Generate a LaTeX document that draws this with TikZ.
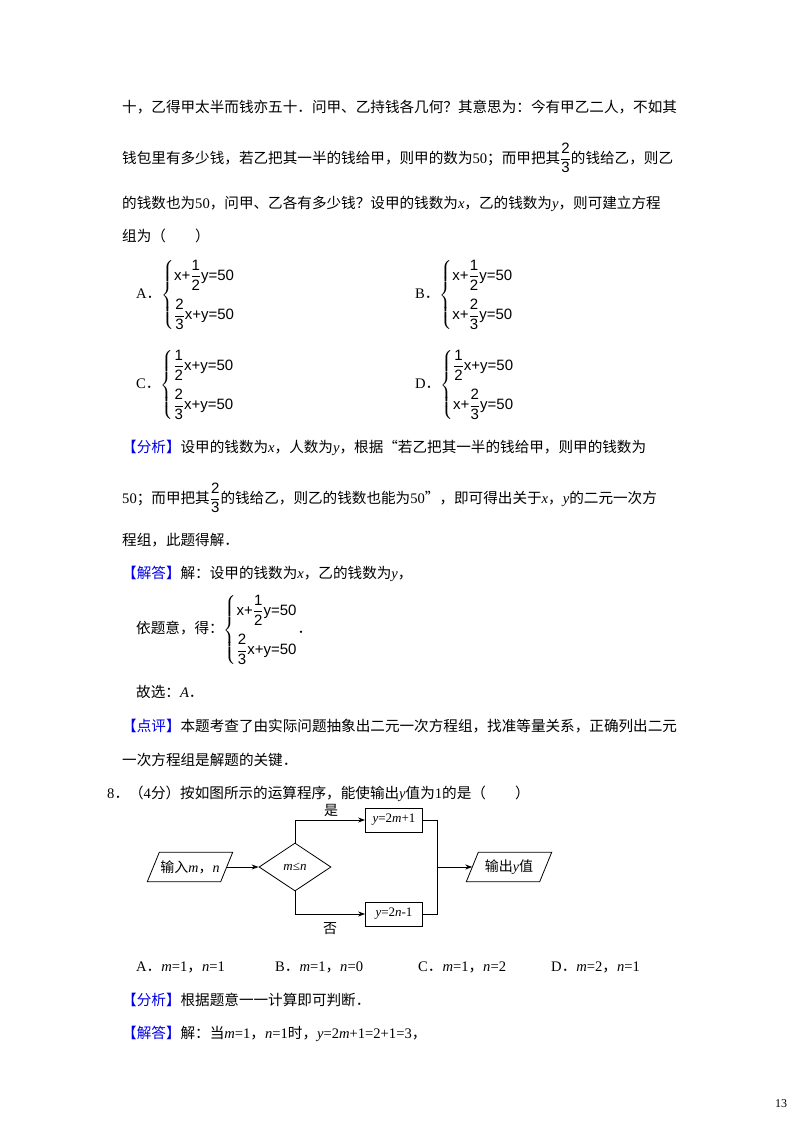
\documentclass[tikz,border=0pt]{standalone}
\usepackage{amsmath}
\usepackage{fontspec}
\setmainfont{Noto Sans CJK SC}
\setsansfont{Liberation Sans}
\newfontfamily\lat{Liberation Serif}
\usetikzlibrary{shapes.geometric,arrows.meta}
\definecolor{tagblue}{RGB}{0,0,230}
\newcommand{\tg}[1]{{\color{tagblue}【#1】}}
\newcommand{\va}[1]{{\lat\itshape #1}}
\newcommand{\eq}[1]{\text{\sffamily\fontsize{15}{17}\selectfont #1}}
\newcommand{\fr}[2]{\dfrac{\text{\sffamily\fontsize{15}{17}\selectfont #1}}{\text{\sffamily\fontsize{15}{17}\selectfont #2}}}
\newcommand{\sys}[2]{$\left\{\begin{array}{@{}l@{}}#1\\[14pt]#2\end{array}\right.$}
\begin{document}
\begin{tikzpicture}[x=1pt,y=-1pt,
  tx/.style={anchor=west,inner sep=0pt,font=\fontsize{14.6}{17}\selectfont},
  box/.style={draw,thick,minimum width=57pt,minimum height=24pt,inner sep=0pt,font=\fontsize{13}{15}\selectfont},
  par/.style={minimum width=73pt,minimum height=29pt,inner sep=0pt,font=\fontsize{14}{16}\selectfont},
  ar/.style={thick,-{Stealth[length=7pt,width=5pt]}}]
\useasboundingbox (0,0) rectangle (800,1132);
\fill[white] (0,0) rectangle (800,1132);
\node[tx] (l1) at (122,107) {十，乙得甲太半而钱亦五十．问甲、乙持钱各几何？其意思为：今有甲乙二人，不如其};
\node[tx] (l2) at (122,158) {钱包里有多少钱，若乙把其一半的钱给甲，则甲的数为{\lat 50}；而甲把其$\fr23$的钱给乙，则乙};
\node[tx] (l3) at (122,204) {的钱数也为{\lat 50}，问甲、乙各有多少钱？设甲的钱数为\va{x}，乙的钱数为\va{y}，则可建立方程};
\node[tx] (l4) at (122,236) {组为（　　）};
\node[tx] (oa) at (136,295) {{\lat A}．\sys{\eq{x+}\fr12\eq{y=50}}{\fr23\eq{x+y=50}}};
\node[tx] (ob) at (415,295) {{\lat B}．\sys{\eq{x+}\fr12\eq{y=50}}{\eq{x+}\fr23\eq{y=50}}};
\node[tx] (oc) at (136,385) {{\lat C}．\sys{\fr12\eq{x+y=50}}{\fr23\eq{x+y=50}}};
\node[tx] (od) at (415,385) {{\lat D}．\sys{\fr12\eq{x+y=50}}{\eq{x+}\fr23\eq{y=50}}};
\node[tx] (f1) at (122,448) {\tg{分析}设甲的钱数为\va{x}，人数为\va{y}，根据“若乙把其一半的钱给甲，则甲的钱数为};
\node[tx] (f2) at (122,498) {{\lat 50}；而甲把其$\fr23$的钱给乙，则乙的钱数也能为{\lat 50}”，即可得出关于\va{x}，\va{y}的二元一次方};
\node[tx] (f3) at (122,540) {程组，此题得解．};
\node[tx] (j1) at (122,574) {\tg{解答}解：设甲的钱数为\va{x}，乙的钱数为\va{y}，};
\node[tx] (j2) at (136,630) {依题意，得：\sys{\eq{x+}\fr12\eq{y=50}}{\fr23\eq{x+y=50}}．};
\node[tx] (j3) at (136,692) {故选：\va{A}．};
\node[tx] (d1) at (122,726) {\tg{点评}本题考查了由实际问题抽象出二元一次方程组，找准等量关系，正确列出二元};
\node[tx] (d2) at (122,760) {一次方程组是解题的关键．};
\node[tx] (q8) at (107,794) {{\lat 8}．（{\lat 4}分）按如图所示的运算程序，能使输出\va{y}值为{\lat 1}的是（　　）};
% flowchart
\node[par] (in) at (190,867) {输入\va{m}，\va{n}};
\draw[thick] ([xshift=-6pt]in.south west) -- ([xshift=6pt]in.north west) -- ([xshift=6pt]in.north east) -- ([xshift=-6pt]in.south east) -- cycle;
\node[draw,thick,diamond,aspect=1.5,minimum width=72pt,minimum height=48pt,inner sep=0pt,font=\fontsize{13}{15}\selectfont] (dm) at (295,867) {\va{m}{\lat≤}\va{n}};
\node[box] (yb) at (394,820) {\va{y}{\lat =2}\va{m}{\lat +1}};
\node[box] (nb) at (394,914) {\va{y}{\lat =2}\va{n}{\lat -1}};
\node[par] (out) at (509,867) {输出\va{y}值};
\draw[thick] ([xshift=-6pt]out.south west) -- ([xshift=6pt]out.north west) -- ([xshift=6pt]out.north east) -- ([xshift=-6pt]out.south east) -- cycle;
\coordinate (jt) at (437,820);
\coordinate (jb) at (437,914);
\coordinate (jm) at (437,867);
\draw[ar] (in.east) -- (dm.west);
\draw[ar] (dm.north) |- (yb.west);
\draw[ar] (dm.south) |- (nb.west);
\draw[thick] (yb.east) -- (jt) -- (jb) -- (nb.east);
\draw[ar] (jm) -- (out.west);
\node[font=\fontsize{14}{16}\selectfont] (shi) at (331,810) {是};
\node[font=\fontsize{14}{16}\selectfont] (fou) at (330,929) {否};
\node[tx] (a1) at (136,967) {{\lat A}．\va{m}{\lat =1}，\va{n}{\lat =1}};
\node[tx] (a2) at (275,967) {{\lat B}．\va{m}{\lat =1}，\va{n}{\lat =0}};
\node[tx] (a3) at (418,967) {{\lat C}．\va{m}{\lat =1}，\va{n}{\lat =2}};
\node[tx] (a4) at (551,967) {{\lat D}．\va{m}{\lat =2}，\va{n}{\lat =1}};
\node[tx] (g1) at (122,1000) {\tg{分析}根据题意一一计算即可判断．};
\node[tx] (g2) at (122,1034) {\tg{解答}解：当\va{m}{\lat =1}，\va{n}{\lat =1}时，\va{y}{\lat =2}\va{m}{\lat +1=2+1=3}，};
\node[font=\fontsize{12}{14}\selectfont\lat] (pg) at (781,1104) {13};
\end{tikzpicture}
\end{document}
